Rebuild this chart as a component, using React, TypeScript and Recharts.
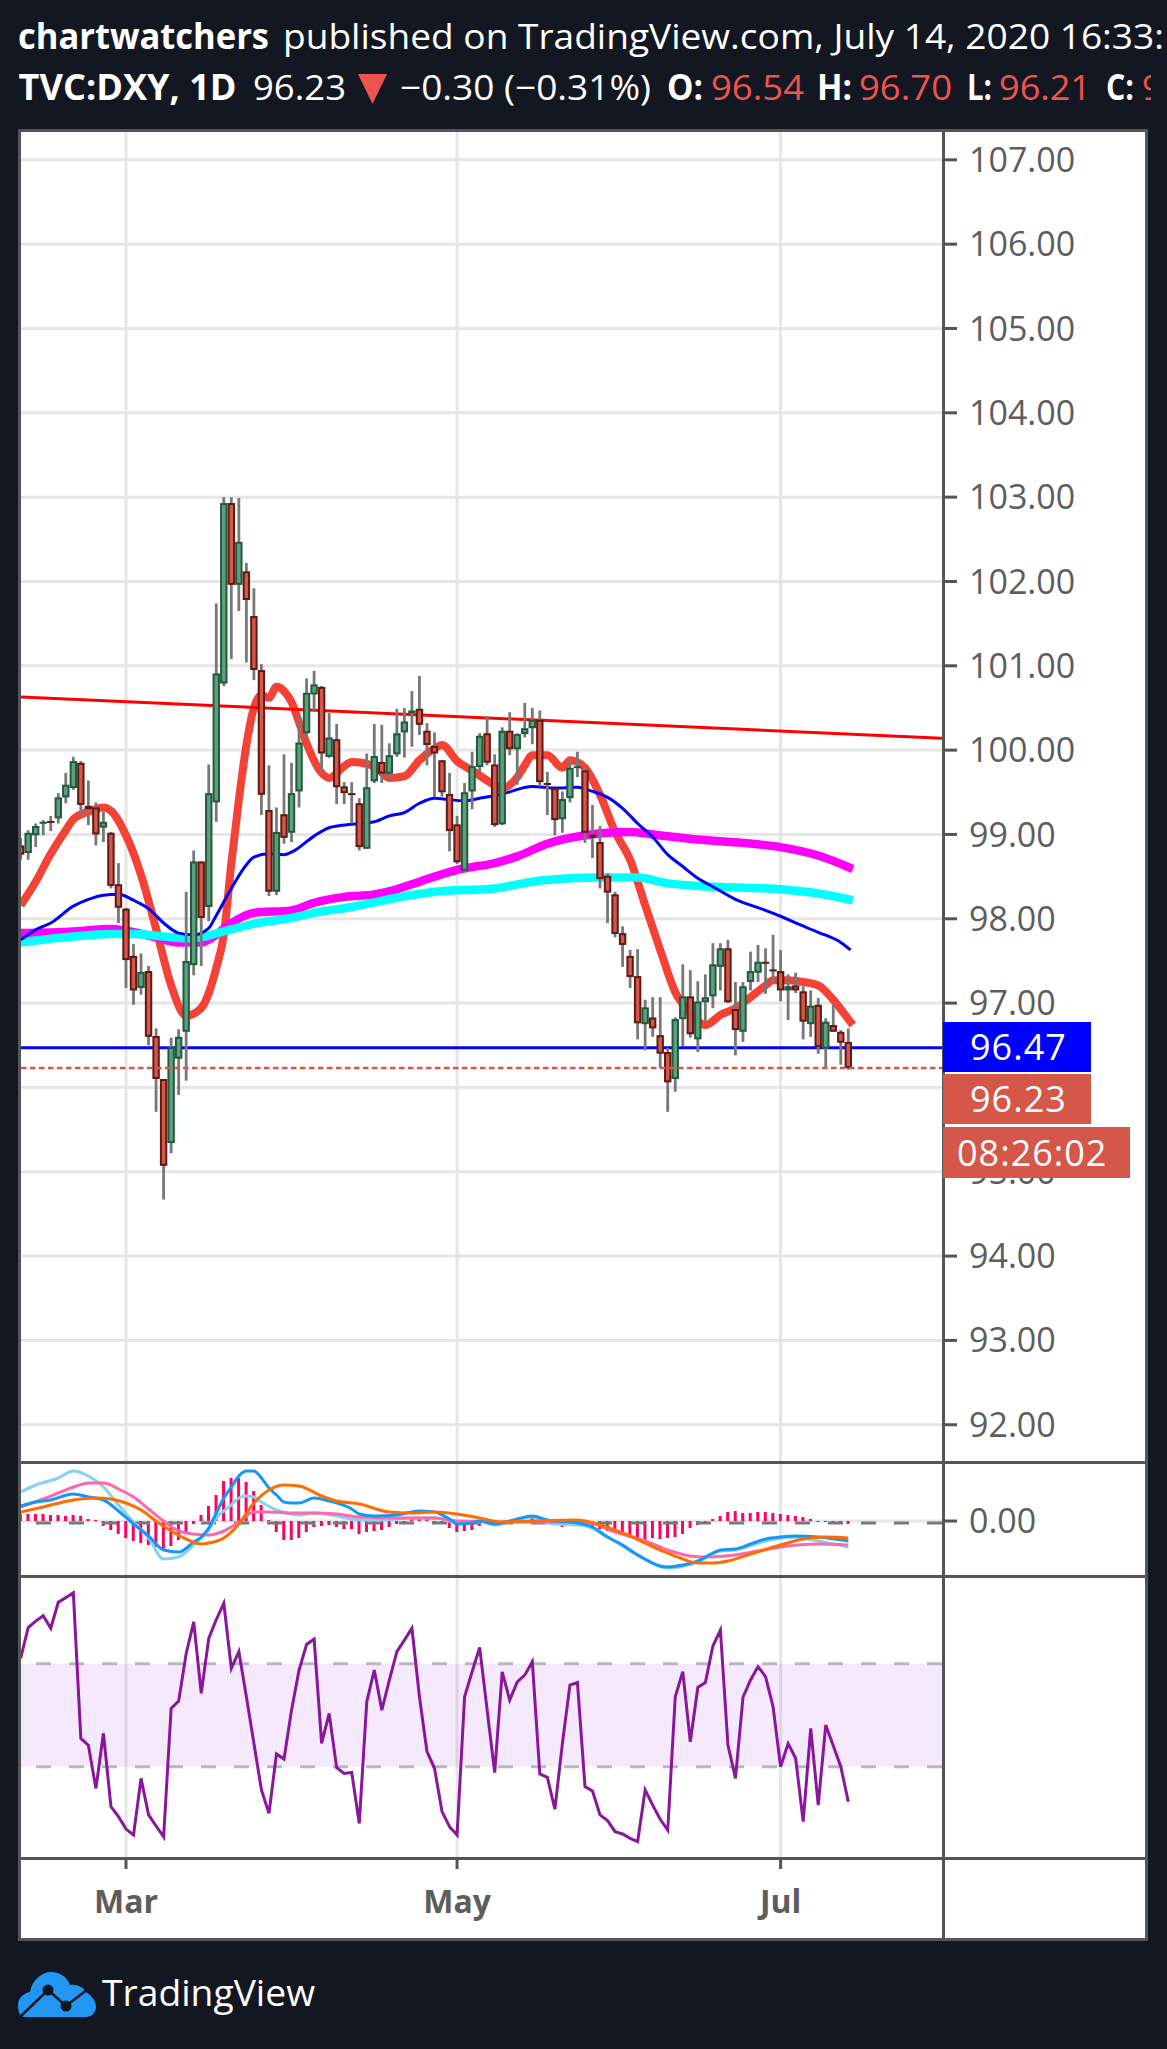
import React from 'react';
import { ComposedChart, Bar, Line, XAxis, YAxis, CartesianGrid, ReferenceArea, ReferenceLine } from 'recharts';

// Daily candles, Feb to Jul 2020
const opens = [
  98.87, 98.78, 98.99, 99.13, 99.16, 99.19, 99.44, 99.55, 99.85, 99.34,
  99.32, 99.08, 99.02, 98.41, 98.12, 97.56, 97.18, 97.38, 96.61, 96.10,
  95.34, 96.34, 96.66, 97.45, 98.68, 98.14, 99.38, 100.79, 102.93, 101.96,
  102.12, 101.59, 100.95, 99.29, 98.32, 99.24, 99.02, 99.51, 100.20, 100.66,
  100.75, 99.92, 100.13, 99.57, 99.49, 99.37, 98.83, 99.63, 99.86, 99.72,
  99.95, 100.21, 100.44, 100.49, 100.23, 100.05, 99.88, 99.48, 99.12, 98.57,
  99.51, 99.80, 100.20, 99.83, 99.12, 100.23, 100.01, 100.19, 100.26, 100.36,
  99.61, 99.55, 99.18, 99.43, 99.79, 99.76, 99.00, 98.91, 98.51, 98.29,
  97.83, 97.56, 97.32, 96.75, 96.83, 96.62, 96.42, 96.10, 96.81, 97.08,
  96.57, 97.01, 97.08, 97.43, 97.65, 96.93, 96.66, 97.25, 97.36, 97.49,
  97.40, 97.38, 97.15, 97.21, 97.14, 96.75, 96.98, 96.46, 96.74, 96.66,
  96.54,
];
const highs = [
  98.96, 99.05, 99.13, 99.17, 99.22, 99.49, 99.73, 99.92, 99.87, 99.64,
  99.38, 99.27, 99.03, 98.66, 98.13, 97.70, 97.59, 97.44, 96.70, 96.10,
  96.59, 96.69, 98.32, 98.81, 98.68, 99.83, 101.74, 103.00, 103.00, 102.99,
  102.22, 101.92, 101.02, 99.82, 99.32, 99.95, 99.85, 100.41, 100.85, 100.94,
  100.76, 100.44, 100.31, 99.62, 99.62, 99.43, 99.96, 100.31, 100.30, 100.08,
  100.49, 100.50, 100.70, 100.88, 100.32, 100.21, 99.88, 99.73, 99.22, 99.61,
  99.98, 100.20, 100.40, 99.95, 100.27, 100.45, 100.20, 100.56, 100.50, 100.47,
  99.74, 99.55, 99.51, 99.89, 99.98, 99.79, 99.35, 99.10, 98.54, 98.32,
  97.91, 97.63, 97.64, 97.04, 97.07, 97.07, 96.47, 96.83, 97.46, 97.39,
  97.26, 97.34, 97.71, 97.71, 97.75, 97.25, 97.25, 97.61, 97.69, 97.65,
  97.81, 97.63, 97.34, 97.36, 97.20, 97.15, 97.06, 96.82, 96.98, 96.68,
  96.70,
];
const lows = [
  98.70, 98.70, 98.85, 98.99, 99.04, 99.13, 99.37, 99.53, 99.23, 99.11,
  98.87, 98.91, 98.36, 97.95, 97.18, 96.98, 97.10, 96.50, 95.71, 94.67,
  95.22, 95.91, 96.08, 97.33, 97.44, 97.97, 99.15, 100.76, 101.08, 101.65,
  101.04, 100.83, 99.23, 98.27, 98.28, 98.89, 98.91, 99.32, 100.14, 100.47,
  99.76, 99.91, 99.36, 99.36, 99.13, 98.81, 98.83, 99.61, 99.61, 99.66,
  99.92, 99.91, 100.04, 100.18, 99.82, 99.44, 99.45, 98.80, 98.65, 98.55,
  99.30, 99.74, 99.82, 99.09, 99.11, 99.94, 99.59, 100.15, 100.07, 99.57,
  99.23, 98.99, 99.02, 99.38, 99.68, 98.90, 98.72, 98.36, 97.95, 97.78,
  97.43, 97.18, 96.57, 96.44, 96.60, 96.23, 95.71, 95.95, 96.49, 96.59,
  96.42, 96.79, 96.94, 97.15, 97.00, 96.38, 96.54, 97.15, 97.25, 97.11,
  97.24, 97.02, 96.80, 97.12, 96.57, 96.60, 96.40, 96.23, 96.66, 96.27,
  96.21,
];
const closes = [
  98.76, 99.02, 99.10, 99.15, 99.15, 99.44, 99.59, 99.87, 99.35, 99.30,
  99.00, 99.15, 98.39, 98.13, 97.51, 97.15, 97.37, 96.60, 96.10, 95.07,
  96.48, 96.60, 97.50, 98.68, 98.01, 99.49, 100.91, 102.93, 101.96, 102.47,
  101.78, 100.95, 99.47, 98.32, 99.03, 98.96, 99.49, 100.09, 100.68, 100.78,
  99.96, 100.15, 99.56, 99.49, 99.48, 98.85, 99.56, 99.93, 99.72, 99.94,
  100.20, 100.34, 100.47, 100.30, 100.06, 99.96, 99.50, 99.04, 98.67, 99.50,
  99.81, 100.17, 99.85, 99.11, 100.23, 100.01, 100.19, 100.26, 100.36, 99.62,
  99.59, 99.17, 99.42, 99.79, 99.81, 99.02, 98.96, 98.47, 98.31, 97.82,
  97.69, 97.31, 96.76, 96.95, 96.70, 96.40, 96.06, 96.81, 97.08, 96.63,
  97.02, 97.07, 97.46, 97.65, 97.01, 96.68, 97.20, 97.38, 97.49, 97.48,
  97.38, 97.15, 97.20, 97.15, 96.78, 96.97, 96.48, 96.78, 96.66, 96.53,
  96.23,
];

// Moving averages: bar index and value of each vertex
const fastMaIdx = [0, 2, 4, 6, 7, 9, 11, 12, 14, 16, 18, 20, 22, 24, 25, 26, 27, 28, 29, 30, 31, 32, 33, 34, 35, 36, 37, 38, 40, 41, 43, 44, 47, 49, 51, 53, 55, 56, 58, 60, 62, 64, 66, 67, 68, 70, 72, 73, 75, 77, 79, 81, 83, 85, 87, 89, 91, 93, 95, 97, 99, 100, 102, 104, 106, 108, 110, 110.6];
const fastMa = [98.16, 98.44, 98.77, 99.05, 99.18, 99.27, 99.32, 99.28, 98.99, 98.52, 97.88, 97.21, 96.85, 96.94, 97.12, 97.42, 97.81, 98.66, 99.41, 100.06, 100.50, 100.65, 100.62, 100.75, 100.70, 100.57, 100.33, 100.08, 99.73, 99.67, 99.81, 99.86, 99.81, 99.67, 99.69, 99.88, 100.02, 100.06, 99.87, 99.76, 99.64, 99.55, 99.68, 99.82, 99.94, 99.94, 99.79, 99.88, 99.79, 99.47, 99.03, 98.70, 98.16, 97.63, 97.13, 96.89, 96.74, 96.86, 96.94, 97.07, 97.21, 97.27, 97.27, 97.25, 97.21, 97.04, 96.81, 96.74];

const midMaIdx = [0, 2, 4, 7, 9, 11, 13, 15, 17, 19, 21, 23, 25, 26, 28, 30, 31, 33, 35, 36, 39, 41, 44, 47, 49, 51, 53, 55, 57, 59, 61, 64, 68, 71, 74, 76, 78, 80, 82, 84, 86, 88, 90, 92, 95, 99, 101, 103, 106, 109, 110.3];
const midMa = [97.75, 97.87, 97.95, 98.15, 98.23, 98.28, 98.29, 98.22, 98.12, 97.95, 97.83, 97.81, 97.89, 98.04, 98.36, 98.64, 98.73, 98.77, 98.76, 98.79, 98.98, 99.08, 99.12, 99.15, 99.22, 99.26, 99.37, 99.43, 99.41, 99.40, 99.43, 99.48, 99.57, 99.55, 99.56, 99.51, 99.44, 99.31, 99.13, 98.97, 98.76, 98.62, 98.48, 98.38, 98.23, 98.10, 98.03, 97.95, 97.84, 97.72, 97.63];

const magentaMaIdx = [0, 7, 12, 15, 18, 21, 24, 25.5, 28, 31, 36, 39, 43, 47, 50, 53, 58, 63, 66, 70, 75, 78, 81, 84, 90, 96, 101, 106, 110.6];
const magentaMa = [97.83, 97.85, 97.88, 97.84, 97.78, 97.72, 97.72, 97.78, 97.95, 98.07, 98.10, 98.19, 98.26, 98.29, 98.35, 98.44, 98.58, 98.66, 98.74, 98.89, 98.99, 99.02, 99.03, 99.00, 98.94, 98.90, 98.85, 98.75, 98.59];

const cyanMaIdx = [0, 6, 12, 15, 18, 22, 24, 26.5, 31, 36, 39, 44, 50, 55, 63, 68, 73, 77, 82, 86, 90, 101, 106, 110.6];
const cyanMa = [97.72, 97.78, 97.82, 97.82, 97.80, 97.77, 97.78, 97.84, 97.94, 98.01, 98.07, 98.14, 98.25, 98.32, 98.36, 98.44, 98.48, 98.49, 98.49, 98.42, 98.39, 98.35, 98.30, 98.22];

// Trend line and price levels
const trendIdx = [0.045, 122.45];
const trendVals = [100.63, 100.14];
const levelIdx = [0.045, 122.45];
const hLevel = 96.47;
const lastPrice = 96.23;

const priceTicks = [92, 93, 94, 95, 96, 97, 98, 99, 100, 101, 102, 103, 104, 105, 106, 107];
const monthTicks = [14, 58, 101];
const monthLabels = ['Mar', 'May', 'Jul'];

// MACD pane
const macdHist = [
  0.07, 0.07, 0.07, 0.07, 0.06, 0.06, 0.05, 0.06, 0.05, 0.02,
  0.01, -0.05, -0.09, -0.13, -0.17, -0.20, -0.22, -0.24, -0.26, -0.28,
  -0.25, -0.19, -0.12, -0.03, 0.06, 0.15, 0.26, 0.40, 0.43, 0.43,
  0.39, 0.30, 0.16, 0.01, -0.11, -0.19, -0.19, -0.17, -0.11, -0.06,
  -0.05, -0.04, -0.06, -0.08, -0.08, -0.13, -0.11, -0.10, -0.09, -0.06,
  -0.03, -0.01, 0.03, 0.03, 0.03, -0.01, -0.03, -0.07, -0.11, -0.10,
  -0.09, -0.05, -0.03, -0.04, -0.01, -0.01, 0, 0.01, 0.03, -0.01,
  -0.02, -0.04, -0.06, -0.04, -0.03, -0.05, -0.07, -0.08, -0.10, -0.12,
  -0.14, -0.15, -0.17, -0.19, -0.17, -0.18, -0.17, -0.16, -0.13, -0.07,
  -0.04, -0.01, 0.02, 0.05, 0.09, 0.10, 0.08, 0.08, 0.09, 0.09,
  0.08, 0.07, 0.06, 0.05, 0.04, 0.02, -0.01, -0.01, -0.01, -0.02,
  -0.03,
];
const macdBlueIdx = [0, 2, 4, 7, 9, 11, 13, 15, 17, 19, 21, 23, 24, 25, 26, 27, 28, 29, 30, 31, 32, 33, 34, 35, 36, 37, 39, 41, 44, 45, 47, 50, 53, 55, 57, 58, 60, 61, 63, 64, 66, 68, 70, 74, 76, 78, 80, 82, 86, 88, 90, 92, 93, 95, 97, 99, 101, 103, 106, 110];
const macdBlue = [0.15, 0.19, 0.21, 0.27, 0.24, 0.21, 0.10, -0.03, -0.15, -0.29, -0.31, -0.21, -0.16, -0.07, 0.08, 0.23, 0.34, 0.45, 0.50, 0.50, 0.43, 0.33, 0.26, 0.19, 0.18, 0.18, 0.23, 0.20, 0.12, 0.07, 0.05, 0.06, 0.10, 0.09, 0.02, -0.03, -0.02, 0, -0.03, -0.02, 0.02, 0.05, 0.01, -0.02, -0.06, -0.16, -0.24, -0.34, -0.46, -0.44, -0.40, -0.32, -0.29, -0.28, -0.23, -0.18, -0.16, -0.15, -0.16, -0.20];
const macdOrangeIdx = [0, 3, 7, 10, 12, 14, 16, 18, 20, 22, 24, 25, 27, 29, 31, 33, 35, 37, 40, 42, 45, 49, 52, 55, 58, 61, 64, 68, 74, 77, 81, 85, 88, 90, 92, 94, 97, 101, 104, 107, 110];
const macdOrange = [0.09, 0.14, 0.21, 0.23, 0.22, 0.18, 0.11, 0, -0.10, -0.18, -0.23, -0.22, -0.17, -0.03, 0.18, 0.31, 0.36, 0.35, 0.25, 0.20, 0.17, 0.09, 0.08, 0.09, 0.07, 0.03, -0.01, 0, 0.01, -0.04, -0.15, -0.29, -0.38, -0.42, -0.42, -0.40, -0.33, -0.24, -0.18, -0.16, -0.17];
const macdPinkIdx = [0, 3, 5, 7, 9, 11, 13, 15, 17, 19, 21, 23, 25, 27, 29, 31, 33, 36, 39, 42, 45, 50, 55, 58, 64, 68, 75, 79, 83, 86, 89, 91, 95, 98, 102, 106, 110];
const macdPink = [0.14, 0.22, 0.28, 0.34, 0.38, 0.38, 0.32, 0.24, 0.12, 0, -0.10, -0.13, -0.14, -0.10, -0.01, 0.09, 0.09, 0.08, 0.08, 0.07, 0.04, 0.03, 0.03, 0, -0.01, -0.01, -0.01, -0.11, -0.20, -0.29, -0.35, -0.36, -0.34, -0.30, -0.25, -0.23, -0.24];
const macdSkyIdx = [0, 2, 5, 7, 9, 11, 13, 15, 17, 19, 21, 23, 25, 26, 28, 29, 30, 31, 32, 34, 36, 37, 39, 42, 45, 48, 52, 55, 58, 61, 63, 65, 68, 70, 75, 78, 82, 86, 90, 93, 95, 99, 103, 106, 110];
const macdSky = [0.29, 0.36, 0.43, 0.50, 0.45, 0.34, 0.16, -0.01, -0.17, -0.38, -0.36, -0.24, -0.09, 0.03, 0.16, 0.23, 0.25, 0.24, 0.19, 0.11, 0.07, 0.06, 0.08, 0.05, 0.01, 0.01, 0.03, 0.03, -0.01, 0, -0.04, -0.01, 0.04, -0.02, -0.05, -0.16, -0.34, -0.47, -0.41, -0.30, -0.29, -0.20, -0.16, -0.20, -0.26];

// Oscillator pane
const rsi = [
  72.1, 84.1, 86.6, 88.7, 83.8, 93.9, 95.7, 97.6, 41.0, 38.4,
  21.6, 43.0, 14.5, 10.6, 5.8, 3.5, 25.5, 11.3, 7.0, 2.8,
  52.7, 55.5, 74.0, 86.3, 58.5, 79.9, 87.2, 93.5, 68.2, 74.7,
  57.2, 39.1, 21.0, 11.9, 35.0, 33.0, 52.0, 67.6, 77.5, 79.6,
  39.1, 50.7, 29.6, 27.4, 27.8, 8.0, 55.3, 67.6, 52.0, 63.7,
  74.7, 79.2, 83.8, 57.2, 35.9, 29.4, 12.6, 6.7, 3.5, 57.2,
  66.9, 76.4, 52.0, 27.7, 66.9, 55.9, 63.0, 65.6, 70.8, 27.2,
  25.9, 13.5, 39.1, 61.7, 62.7, 22.3, 20.6, 11.3, 9.1, 4.8,
  3.9, 2.2, 0.9, 21.0, 15.1, 9.6, 5.4, 57.2, 66.9, 39.7,
  60.8, 62.7, 76.9, 83.1, 38.4, 25.5, 57.0, 63.7, 68.9, 65.0,
  53.3, 30.0, 39.0, 33.3, 8.7, 44.9, 15.1, 46.2, 38.2, 30.0,
  16.4,
];
const rsiGrid = [0, 40, 80];
const rsiUpper = 70;
const rsiLower = 30;

const candles = opens.map((open, i) => ({ i, open, high: highs[i], low: lows[i], close: closes[i], hist: macdHist[i], rsi: rsi[i] }));
const zip = (xs: number[], ys: number[]) => xs.map((i, k) => ({ i, v: ys[k] }));

const X_DOMAIN: [number, number] = [0.045, 122.45];
const FONT = '"Open Sans", sans-serif';
const DARK = '#131722';
const FRAME = '#555555';
const GRID = '#e6e6e6';
const AXIS_TEXT = '#5d5d5d';
const DOWN = '#d4574a';

// draws wick and body from the bar's low..high rectangle
const Candle = (props: any) => {
  const { x, y, width, height, payload } = props;
  const { open, high, low, close } = payload;
  const perUnit = height / (high - low);
  const cx = x + width / 2;
  const up = close >= open;
  const top = y + (high - Math.max(open, close)) * perUnit;
  const bodyH = Math.max(Math.abs(close - open) * perUnit, 2);
  const dark = up ? '#215b3e' : '#5e1a14';
  const light = up ? '#5f9f7e' : DOWN;
  return (
    <g>
      <rect x={cx - 1.4} y={y} width={2.8} height={height} fill="#787878" />
      <rect x={cx - 3.7} y={top} width={7.4} height={bodyH} fill={dark} />
      {bodyH > 5 && <rect x={cx - 1.7} y={top + 2} width={3.4} height={bodyH - 4} fill={light} />}
    </g>
  );
};

const ma = (idx: number[], vals: number[], color: string, width: number, key: string) => (
  <Line key={key} data={zip(idx, vals)} dataKey="v" type="monotone" stroke={color} strokeWidth={width} dot={false} isAnimationActive={false} strokeLinejoin="round" legendType="none" />
);

const Rect = ({ x, y, w, h, c }: { x: number; y: number; w: number; h: number; c: string }) => (
  <div style={{ position: 'absolute', left: x, top: y, width: w, height: h, background: c }} />
);

const PriceBox = ({ y, h, x, w, c, text, tx }: any) => (
  <div style={{ position: 'absolute', left: x, top: y, width: w, height: h, background: c, color: '#fff', font: `36px ${FONT}`, letterSpacing: 1, lineHeight: `${h}px`, paddingLeft: tx - x, boxSizing: 'border-box' }}>{text}</div>
);

const Header = () => (
  <svg width={1167} height={130} style={{ position: 'absolute', left: 0, top: 0 }} fontFamily={FONT} fontSize={35}>
    <text x={18} y={49} fill="#fff" fontWeight={700} textLength={251} lengthAdjust="spacingAndGlyphs">chartwatchers</text>
    <text x={283} y={49} fill="#fff" textLength={881} lengthAdjust="spacingAndGlyphs">published on TradingView.com, July 14, 2020 16:33:</text>
    <text x={18.6} y={100} fill="#fff" fontWeight={700} textLength={218} lengthAdjust="spacingAndGlyphs">TVC:DXY, 1D</text>
    <text x={253} y={100} fill="#fff" textLength={93} lengthAdjust="spacingAndGlyphs">96.23</text>
    <polygon points="358,74 387,74 372.5,104" fill="#ef5350" />
    <text x={400} y={100} fill="#fff" textLength={251} lengthAdjust="spacingAndGlyphs">−0.30 (−0.31%)</text>
    <text x={667} y={100} fill="#fff" fontWeight={700} textLength={36} lengthAdjust="spacingAndGlyphs">O:</text>
    <text x={711} y={100} fill="#ef5350" textLength={93} lengthAdjust="spacingAndGlyphs">96.54</text>
    <text x={817} y={100} fill="#fff" fontWeight={700} textLength={35} lengthAdjust="spacingAndGlyphs">H:</text>
    <text x={859} y={100} fill="#ef5350" textLength={93} lengthAdjust="spacingAndGlyphs">96.70</text>
    <text x={967} y={100} fill="#fff" fontWeight={700} textLength={25} lengthAdjust="spacingAndGlyphs">L:</text>
    <text x={999} y={100} fill="#ef5350" textLength={92} lengthAdjust="spacingAndGlyphs">96.21</text>
    <text x={1106} y={100} fill="#fff" fontWeight={700} textLength={28} lengthAdjust="spacingAndGlyphs">C:</text>
    <svg x={1142} y={60} width={9} height={60}>
      <text x={0} y={40} fill="#ef5350">9</text>
    </svg>
  </svg>
);

const Footer = () => (
  <>
    <svg width={78} height={46} style={{ position: 'absolute', left: 18, top: 1972 }}>
      <path d="M6 45 C1 44 0 38 0 33 C0 26 6 21 12 20 C14 8 24 0 33 0 C42 0 49 5 52 13 C59 12 65 15 68 20 C74 24 78 29 78 35 C78 41 73 45 68 45 Z" fill="#2196f3" />
      <polyline points="3,44 30,18 48,34 70,17" fill="none" stroke={DARK} strokeWidth={2.5} />
      <circle cx={30} cy={18} r={5.5} fill={DARK} />
      <circle cx={48} cy={34} r={5.5} fill={DARK} />
    </svg>
    <svg width={230} height={60} style={{ position: 'absolute', left: 100, top: 1965 }} fontFamily={FONT} fontSize={37}>
      <text x={2} y={41} fill="#fff" textLength={213} lengthAdjust="spacingAndGlyphs">TradingView</text>
    </svg>
  </>
);

const App: React.FC = () => {
  return (
    <div style={{ position: 'absolute', left: 0, top: 0, width: 1167, height: 2049, background: DARK, overflow: 'hidden' }}>
      <Header />
      <Rect x={21} y={132} w={1124} h={1806} c="#ffffff" />

      {/* price pane */}
      <div style={{ position: 'absolute', left: 21, top: 132 }}>
        <ComposedChart width={1124} height={1329} data={candles} margin={{ top: 0, right: 0, bottom: 0, left: 0 }}>
          <CartesianGrid stroke={GRID} strokeWidth={3} horizontalValues={priceTicks} verticalValues={monthTicks} />
          <XAxis dataKey="i" type="number" domain={X_DOMAIN} allowDataOverflow ticks={monthTicks} hide />
          <YAxis
            orientation="right"
            width={203}
            type="number"
            domain={[91.57, 107.33]}
            allowDataOverflow
            ticks={priceTicks}
            interval={0}
            tickFormatter={(v: number) => v.toFixed(2)}
            axisLine={false}
            tickSize={15}
            tickMargin={12}
            tickLine={{ stroke: FRAME, strokeWidth: 3 }}
            tick={{ fill: AXIS_TEXT, fontSize: 34, fontFamily: FONT }}
          />
          {ma(fastMaIdx, fastMa, '#f44336', 8, 'fast')}
          {ma(magentaMaIdx, magentaMa, '#ff00ff', 8.5, 'magenta')}
          {ma(cyanMaIdx, cyanMa, '#00ffff', 8.5, 'cyan')}
          {ma(midMaIdx, midMa, '#0000ff', 3, 'mid')}
          <Line data={zip(trendIdx, trendVals)} dataKey="v" type="linear" stroke="#ff0000" strokeWidth={3} dot={false} isAnimationActive={false} />
          <Line data={zip(levelIdx, [hLevel, hLevel])} dataKey="v" type="linear" stroke="#0000ff" strokeWidth={3} dot={false} isAnimationActive={false} />
          <Bar dataKey={(d: any) => [d.low, d.high]} barSize={8} shape={Candle} isAnimationActive={false} zIndex={450} />
          <Line data={zip(levelIdx, [lastPrice, lastPrice])} dataKey="v" type="linear" stroke={DOWN} strokeWidth={2.5} strokeDasharray="5.5 3.5" dot={false} isAnimationActive={false} zIndex={460} />
        </ComposedChart>
      </div>

      {/* MACD pane */}
      <div style={{ position: 'absolute', left: 21, top: 1464 }}>
        <ComposedChart width={1124} height={111} data={candles} margin={{ top: 0, right: 0, bottom: 0, left: 0 }}>
          <CartesianGrid stroke={GRID} strokeWidth={3} horizontalValues={[0]} verticalValues={monthTicks} />
          <XAxis dataKey="i" type="number" domain={X_DOMAIN} allowDataOverflow ticks={monthTicks} hide />
          <YAxis
            orientation="right"
            width={203}
            type="number"
            domain={[-0.54, 0.57]}
            allowDataOverflow
            ticks={[0]}
            tickFormatter={(v: number) => v.toFixed(2)}
            axisLine={false}
            tickSize={15}
            tickMargin={12}
            tickLine={{ stroke: FRAME, strokeWidth: 3 }}
            tick={{ fill: AXIS_TEXT, fontSize: 34, fontFamily: FONT }}
          />
          <ReferenceLine y={-0.02} stroke="#787878" strokeWidth={3} strokeDasharray="15 18" />
          {ma(macdSkyIdx, macdSky, '#88d1f0', 3, 'sky')}
          {ma(macdPinkIdx, macdPink, '#ff69ac', 3, 'pink')}
          <Bar dataKey="hist" fill="#ff0066" barSize={3} isAnimationActive={false} />
          {ma(macdBlueIdx, macdBlue, '#1497f5', 3, 'macdBlue')}
          {ma(macdOrangeIdx, macdOrange, '#ff6d00', 3, 'macdOrange')}
        </ComposedChart>
      </div>

      {/* oscillator pane and time axis */}
      <div style={{ position: 'absolute', left: 21, top: 1578 }}>
        <ComposedChart width={1124} height={360} data={candles} margin={{ top: 0, right: 0, bottom: 0, left: 0 }}>
          <CartesianGrid stroke={GRID} strokeWidth={3} horizontalValues={rsiGrid} verticalValues={monthTicks} />
          <XAxis
            dataKey="i"
            type="number"
            domain={X_DOMAIN}
            allowDataOverflow
            ticks={monthTicks}
            interval={0}
            height={81}
            tickFormatter={(v: number) => monthLabels[monthTicks.indexOf(v)]}
            axisLine={false}
            tickSize={12}
            tickMargin={21}
            tickLine={{ stroke: FRAME, strokeWidth: 3 }}
            tick={{ fill: AXIS_TEXT, fontSize: 32, fontWeight: 700, fontFamily: FONT }}
          />
          <YAxis orientation="right" width={203} type="number" domain={[-5.05, 103.33]} allowDataOverflow ticks={rsiGrid} tick={false} tickLine={false} axisLine={false} />
          <ReferenceArea y1={rsiLower} y2={rsiUpper} fill="#9a28f5" fillOpacity={0.1} stroke="none" />
          <ReferenceLine y={rsiUpper} stroke="#bdb6c0" strokeWidth={3} strokeDasharray="15 18" />
          <ReferenceLine y={rsiLower} stroke="#bdb6c0" strokeWidth={3} strokeDasharray="15 18" />
          <Line dataKey="rsi" type="linear" stroke="#8a169c" strokeWidth={3} dot={false} isAnimationActive={false} />
        </ComposedChart>
      </div>

      {/* frame and separators */}
      <Rect x={18} y={129} w={1130} h={3} c={FRAME} />
      <Rect x={18} y={1938} w={1130} h={3} c={FRAME} />
      <Rect x={18} y={129} w={3} h={1812} c={FRAME} />
      <Rect x={1145} y={129} w={3} h={1812} c={FRAME} />
      <Rect x={21} y={1461} w={1124} h={3} c={FRAME} />
      <Rect x={21} y={1575} w={1124} h={3} c={FRAME} />
      <Rect x={21} y={1857} w={1124} h={3} c={FRAME} />
      <Rect x={942} y={132} w={3} h={1806} c={FRAME} />

      <PriceBox x={943} y={1022} w={148} h={50} c="#0000ff" text="96.47" tx={970} />
      <PriceBox x={943} y={1074} w={148} h={50} c={DOWN} text="96.23" tx={970} />
      <PriceBox x={943} y={1127} w={187} h={51} c={DOWN} text="08:26:02" tx={957} />

      <Footer />
    </div>
  );
};

export default App;
